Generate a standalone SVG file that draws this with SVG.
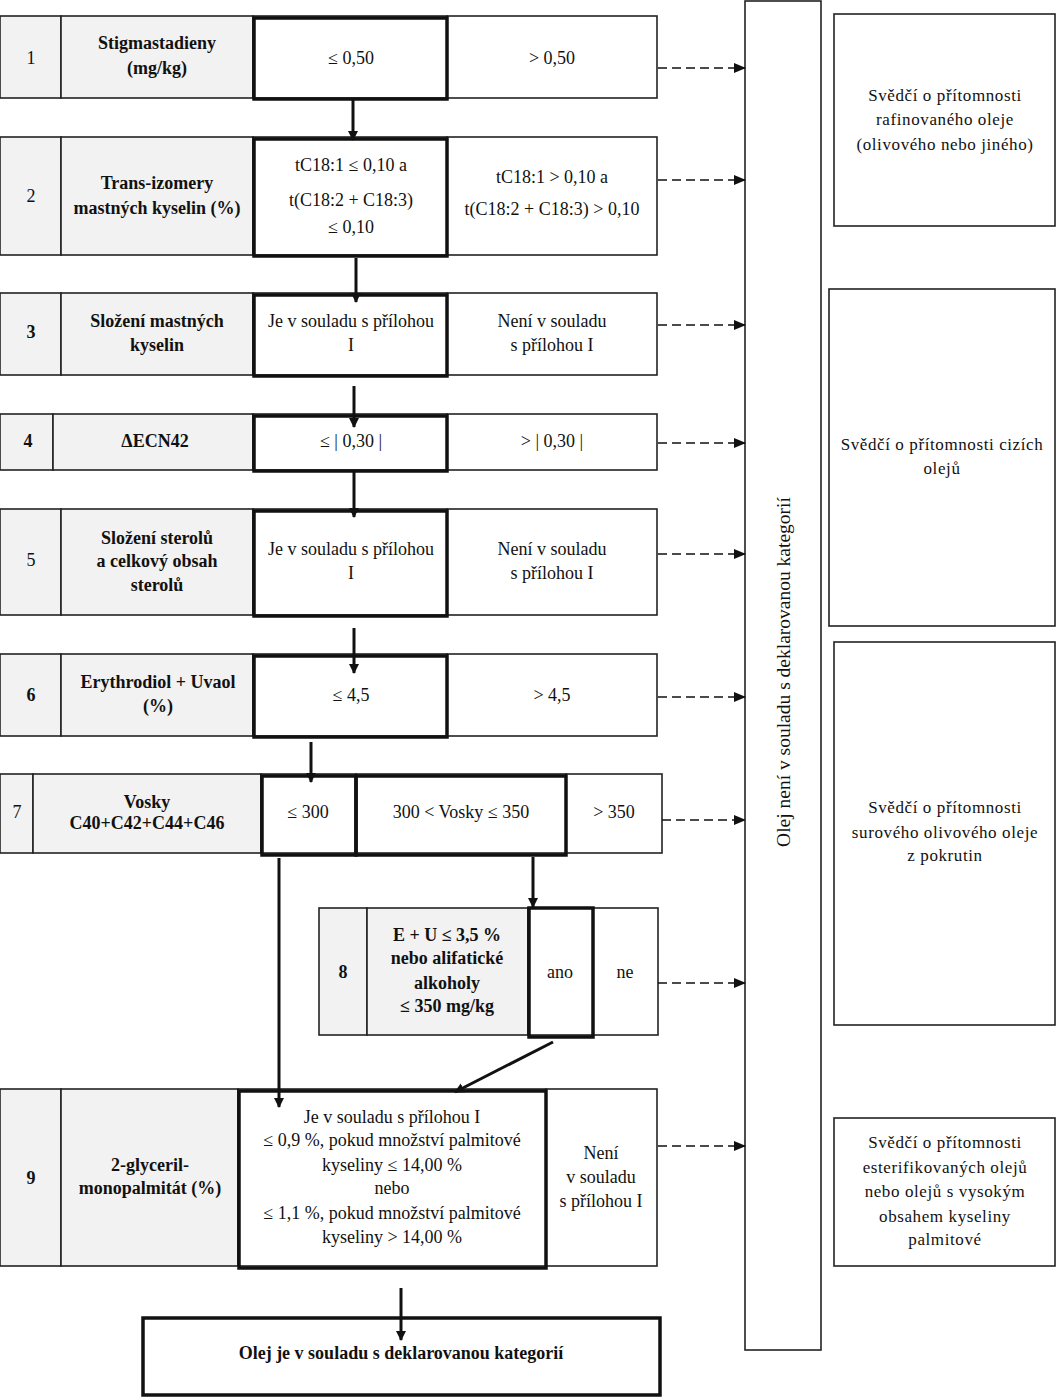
<svg xmlns="http://www.w3.org/2000/svg" width="1056" height="1397" viewBox="0 0 1056 1397">
<style>
.c{fill:#fff;stroke:#222;stroke-width:1.6}
.g{fill:#f2f2f2;stroke:#222;stroke-width:1.6}
.k{fill:none;stroke:#111;stroke-width:3.5}
text{font-family:"Liberation Serif","Times New Roman",serif;font-size:18px;fill:#111;text-anchor:middle}
.b{font-weight:bold}
.r{font-family:"Liberation Serif","Times New Roman",serif;font-size:17px;letter-spacing:0.6px}
.d{stroke:#111;stroke-width:1.6;stroke-dasharray:9 5;fill:none;marker-end:url(#ah)}
.s{stroke:#111;stroke-width:3;fill:none;marker-end:url(#sh)}
</style>
<defs>
<marker id="ah" markerWidth="12" markerHeight="10" refX="11" refY="5" orient="auto" markerUnits="userSpaceOnUse"><path d="M0,0 L12,5 L0,10 z" fill="#111"/></marker>
<marker id="sh" markerWidth="10" markerHeight="12" refX="9" refY="5" orient="auto" markerUnits="userSpaceOnUse"><path d="M0,0 L10,5 L0,10 z" fill="#111"/></marker>
</defs>
<rect width="1056" height="1397" fill="#fff"/>

<g id="row1">
<rect class="g" x="0" y="16" width="61" height="82"/>
<rect class="g" x="61" y="16" width="192" height="82"/>
<rect class="c" x="253" y="16" width="194" height="82"/>
<rect class="c" x="447" y="16" width="210" height="82"/>
<rect class="k" x="254" y="18" width="193" height="81"/>
<text x="31" y="64">1</text>
<text class="b" x="157" y="49">Stigmastadieny</text>
<text class="b" x="157" y="74">(mg/kg)</text>
<text x="351" y="64">≤ 0,50</text>
<text x="552" y="64">&gt; 0,50</text>
</g>

<g id="row2">
<rect class="g" x="0" y="137" width="61" height="118"/>
<rect class="g" x="61" y="137" width="192" height="118"/>
<rect class="c" x="253" y="137" width="194" height="118"/>
<rect class="c" x="447" y="137" width="210" height="118"/>
<rect class="k" x="254" y="139" width="193" height="117"/>
<text x="31" y="202">2</text>
<text class="b" x="157" y="189">Trans-izomery</text>
<text class="b" x="157" y="214">mastných kyselin (%)</text>
<text x="351" y="171">tC18:1 ≤ 0,10 a</text>
<text x="351" y="206">t(C18:2 + C18:3)</text>
<text x="351" y="233">≤ 0,10</text>
<text x="552" y="183">tC18:1 &gt; 0,10 a</text>
<text x="552" y="215">t(C18:2 + C18:3) &gt; 0,10</text>
</g>

<g id="row3">
<rect class="g" x="0" y="293" width="61" height="82"/>
<rect class="g" x="61" y="293" width="192" height="82"/>
<rect class="c" x="253" y="293" width="194" height="82"/>
<rect class="c" x="447" y="293" width="210" height="82"/>
<rect class="k" x="254" y="295" width="193" height="81"/>
<text class="b" x="31" y="338">3</text>
<text class="b" x="157" y="327">Složení mastných</text>
<text class="b" x="157" y="351">kyselin</text>
<text x="351" y="327">Je v souladu s přílohou</text>
<text x="351" y="351">I</text>
<text x="552" y="327">Není v souladu</text>
<text x="552" y="351">s přílohou I</text>
</g>

<g id="row4">
<rect class="g" x="0" y="414" width="53" height="56"/>
<rect class="g" x="53" y="414" width="200" height="56"/>
<rect class="c" x="253" y="414" width="194" height="56"/>
<rect class="c" x="447" y="414" width="210" height="56"/>
<rect class="k" x="254" y="416" width="193" height="55"/>
<text class="b" x="28" y="447">4</text>
<text class="b" x="155" y="447">ΔECN42</text>
<text x="351" y="447">≤ | 0,30 |</text>
<text x="552" y="447">&gt; | 0,30 |</text>
</g>

<g id="row5">
<rect class="g" x="0" y="509" width="61" height="106"/>
<rect class="g" x="61" y="509" width="192" height="106"/>
<rect class="c" x="253" y="509" width="194" height="106"/>
<rect class="c" x="447" y="509" width="210" height="106"/>
<rect class="k" x="254" y="511" width="193" height="105"/>
<text x="31" y="566">5</text>
<text class="b" x="157" y="544">Složení sterolů</text>
<text class="b" x="157" y="567">a celkový obsah</text>
<text class="b" x="157" y="591">sterolů</text>
<text x="351" y="555">Je v souladu s přílohou</text>
<text x="351" y="579">I</text>
<text x="552" y="555">Není v souladu</text>
<text x="552" y="579">s přílohou I</text>
</g>

<g id="row6">
<rect class="g" x="0" y="654" width="61" height="82"/>
<rect class="g" x="61" y="654" width="192" height="82"/>
<rect class="c" x="253" y="654" width="194" height="82"/>
<rect class="c" x="447" y="654" width="210" height="82"/>
<rect class="k" x="254" y="656" width="193" height="81"/>
<text class="b" x="31" y="701">6</text>
<text class="b" x="158" y="688">Erythrodiol + Uvaol</text>
<text class="b" x="158" y="712">(%)</text>
<text x="351" y="701">≤ 4,5</text>
<text x="552" y="701">&gt; 4,5</text>
</g>

<g id="row7">
<rect class="g" x="0" y="774" width="33" height="79"/>
<rect class="g" x="33" y="774" width="228" height="79"/>
<rect class="c" x="261" y="774" width="95" height="79"/>
<rect class="c" x="356" y="774" width="210" height="79"/>
<rect class="c" x="566" y="774" width="96" height="79"/>
<rect class="k" x="262" y="776" width="94" height="79"/>
<rect class="k" x="356" y="776" width="210" height="79"/>
<text x="17" y="818">7</text>
<text class="b" x="147" y="808">Vosky</text>
<text class="b" x="147" y="829">C40+C42+C44+C46</text>
<text x="308" y="818">≤ 300</text>
<text x="461" y="818">300 &lt; Vosky ≤ 350</text>
<text x="614" y="818">&gt; 350</text>
</g>

<g id="row8">
<rect class="g" x="319" y="908" width="48" height="127"/>
<rect class="g" x="367" y="908" width="161" height="127"/>
<rect class="c" x="528" y="908" width="65" height="127"/>
<rect class="c" x="593" y="908" width="65" height="127"/>
<rect class="k" x="529" y="908" width="64" height="129"/>
<text class="b" x="343" y="978">8</text>
<text class="b" x="447" y="941">E + U ≤ 3,5 %</text>
<text class="b" x="447" y="964">nebo alifatické</text>
<text class="b" x="447" y="989">alkoholy</text>
<text class="b" x="447" y="1012">≤ 350 mg/kg</text>
<text x="560" y="978">ano</text>
<text x="625" y="978">ne</text>
</g>

<g id="row9">
<rect class="g" x="0" y="1089" width="61" height="177"/>
<rect class="g" x="61" y="1089" width="177" height="177"/>
<rect class="c" x="238" y="1089" width="308" height="177"/>
<rect class="c" x="546" y="1089" width="111" height="177"/>
<rect class="k" x="239" y="1091" width="307" height="177"/>
<text class="b" x="31" y="1184">9</text>
<text class="b" x="150" y="1171">2-glyceril-</text>
<text class="b" x="150" y="1194">monopalmitát (%)</text>
<text x="392" y="1123">Je v souladu s přílohou I</text>
<text x="392" y="1146">≤ 0,9 %, pokud množství palmitové</text>
<text x="392" y="1171">kyseliny ≤ 14,00 %</text>
<text x="392" y="1194">nebo</text>
<text x="392" y="1219">≤ 1,1 %, pokud množství palmitové</text>
<text x="392" y="1243">kyseliny &gt; 14,00 %</text>
<text x="601" y="1159">Není</text>
<text x="601" y="1183">v souladu</text>
<text x="601" y="1207">s přílohou I</text>
</g>

<g id="final">
<rect class="k" x="143" y="1318" width="517" height="77" fill="#fff"/>
<text class="b" x="401" y="1359">Olej je v souladu s deklarovanou kategorií</text>
</g>

<g id="reject">
<rect class="c" x="745" y="1" width="76" height="1349"/>
<text x="0" y="0" font-size="19.5" transform="translate(790,672) rotate(-90)" style="font-size:19.5px">Olej není v souladu s deklarovanou kategorií</text>
</g>

<g id="noteA">
<rect class="c" x="834" y="14" width="221" height="212"/>
<text class="r" x="945" y="101">Svědčí o přítomnosti</text>
<text class="r" x="945" y="125">rafinovaného oleje</text>
<text class="r" x="945" y="150">(olivového nebo jiného)</text>
</g>
<g id="noteB">
<rect class="c" x="829" y="289" width="226" height="337"/>
<text class="r" x="942" y="450">Svědčí o přítomnosti cizích</text>
<text class="r" x="942" y="474">olejů</text>
</g>
<g id="noteC">
<rect class="c" x="834" y="642" width="221" height="383"/>
<text class="r" x="945" y="813">Svědčí o přítomnosti</text>
<text class="r" x="945" y="838">surového olivového oleje</text>
<text class="r" x="945" y="861">z pokrutin</text>
</g>
<g id="noteD">
<rect class="c" x="834" y="1118" width="221" height="148"/>
<text class="r" x="945" y="1148">Svědčí o přítomnosti</text>
<text class="r" x="945" y="1173">esterifikovaných olejů</text>
<text class="r" x="945" y="1197">nebo olejů s vysokým</text>
<text class="r" x="945" y="1222">obsahem kyseliny</text>
<text class="r" x="945" y="1245">palmitové</text>
</g>

<g id="connectors">
<line class="d" x1="658" y1="68" x2="745" y2="68"/>
<line class="d" x1="658" y1="180" x2="745" y2="180"/>
<line class="d" x1="658" y1="325" x2="745" y2="325"/>
<line class="d" x1="658" y1="443" x2="745" y2="443"/>
<line class="d" x1="658" y1="554" x2="745" y2="554"/>
<line class="d" x1="658" y1="697" x2="745" y2="697"/>
<line class="d" x1="662" y1="820" x2="745" y2="820"/>
<line class="d" x1="658" y1="983" x2="745" y2="983"/>
<line class="d" x1="658" y1="1146" x2="745" y2="1146"/>
<line class="s" x1="353" y1="100" x2="353" y2="140"/>
<line class="s" x1="356" y1="258" x2="356" y2="302"/>
<line class="s" x1="354" y1="386" x2="354" y2="427"/>
<line class="s" x1="354" y1="472" x2="354" y2="517"/>
<line class="s" x1="354" y1="628" x2="354" y2="673"/>
<line class="s" x1="311" y1="742" x2="311" y2="782"/>
<line class="s" x1="279" y1="858" x2="279" y2="1107"/>
<line class="s" x1="533" y1="857" x2="533" y2="907"/>
<line class="s" x1="553" y1="1042" x2="455" y2="1092"/>
<line class="s" x1="401" y1="1288" x2="401" y2="1340"/>
</g>
</svg>
